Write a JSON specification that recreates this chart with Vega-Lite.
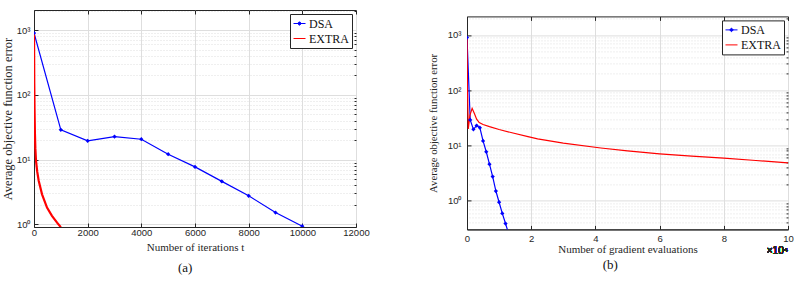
{
  "$schema": "https://vega.github.io/schema/vega-lite/v6.json",
  "padding": {"left": 0, "top": 9, "right": 0, "bottom": 0},
  "background": "white",
  "config": {
    "view": {"stroke": "#262626", "strokeWidth": 1},
    "axis": {
      "domainColor": "#262626",
      "tickColor": "#262626",
      "labelColor": "#262626",
      "labelFont": "Liberation Sans",
      "labelFontSize": 9.5,
      "titleFont": "Liberation Serif",
      "titleFontSize": 11,
      "titleFontWeight": "normal",
      "titleColor": "#262626",
      "gridColor": "#dedede",
      "gridWidth": 1,
      "tickSize": -4,
      "labelPadding": 9
    },
    "legend": {
      "labelFont": "Liberation Serif",
      "labelFontSize": 12,
      "labelColor": "#111111",
      "strokeColor": "#262626",
      "fillColor": "white",
      "padding": 3,
      "rowPadding": 2,
      "labelOffset": 3,
      "symbolSize": 144,
      "symbolStrokeWidth": 1,
      "title": null
    }
  },
  "datasets": {
    "iterations": [
      {"iter": 0, "err": 900, "method": "DSA"},
      {"iter": 1000, "err": 28.8, "method": "DSA"},
      {"iter": 2000, "err": 19.5, "method": "DSA"},
      {"iter": 3000, "err": 22.6, "method": "DSA"},
      {"iter": 4000, "err": 20.6, "method": "DSA"},
      {"iter": 5000, "err": 12.1, "method": "DSA"},
      {"iter": 6000, "err": 7.7, "method": "DSA"},
      {"iter": 7000, "err": 4.6, "method": "DSA"},
      {"iter": 8000, "err": 2.75, "method": "DSA"},
      {"iter": 9000, "err": 1.52, "method": "DSA"},
      {"iter": 10000, "err": 0.935, "method": "DSA"},
      {"iter": 0, "err": 900, "method": "EXTRA"},
      {"iter": 5, "err": 400, "method": "EXTRA"},
      {"iter": 10, "err": 150, "method": "EXTRA"},
      {"iter": 20, "err": 60, "method": "EXTRA"},
      {"iter": 35, "err": 25, "method": "EXTRA"},
      {"iter": 50, "err": 15, "method": "EXTRA"},
      {"iter": 75, "err": 9.5, "method": "EXTRA"},
      {"iter": 120, "err": 6.5, "method": "EXTRA"},
      {"iter": 175, "err": 4.7, "method": "EXTRA"},
      {"iter": 300, "err": 2.9, "method": "EXTRA"},
      {"iter": 485, "err": 1.81, "method": "EXTRA"},
      {"iter": 670, "err": 1.35, "method": "EXTRA"},
      {"iter": 860, "err": 1.06, "method": "EXTRA"},
      {"iter": 1000, "err": 0.9, "method": "EXTRA"}
    ],
    "gradients": [
      {"evals": 0, "err": 900, "method": "DSA"},
      {"evals": 1000, "err": 29, "method": "DSA"},
      {"evals": 2000, "err": 19.6, "method": "DSA"},
      {"evals": 3000, "err": 23, "method": "DSA"},
      {"evals": 4000, "err": 21, "method": "DSA"},
      {"evals": 5000, "err": 12.1, "method": "DSA"},
      {"evals": 6000, "err": 7.7, "method": "DSA"},
      {"evals": 7000, "err": 4.6, "method": "DSA"},
      {"evals": 8000, "err": 2.74, "method": "DSA"},
      {"evals": 9000, "err": 1.5, "method": "DSA"},
      {"evals": 10000, "err": 0.94, "method": "DSA"},
      {"evals": 11000, "err": 0.59, "method": "DSA"},
      {"evals": 12000, "err": 0.387, "method": "DSA"},
      {"evals": 13000, "err": 0.25, "method": "DSA"},
      {"evals": 0, "err": 900, "method": "EXTRA"},
      {"evals": 150, "err": 100, "method": "EXTRA"},
      {"evals": 400, "err": 20, "method": "EXTRA"},
      {"evals": 900, "err": 35, "method": "EXTRA"},
      {"evals": 1600, "err": 47, "method": "EXTRA"},
      {"evals": 2300, "err": 38, "method": "EXTRA"},
      {"evals": 3000, "err": 30, "method": "EXTRA"},
      {"evals": 3800, "err": 26, "method": "EXTRA"},
      {"evals": 5000, "err": 24, "method": "EXTRA"},
      {"evals": 7000, "err": 22, "method": "EXTRA"},
      {"evals": 10000, "err": 19.5, "method": "EXTRA"},
      {"evals": 14000, "err": 17, "method": "EXTRA"},
      {"evals": 19000, "err": 14.5, "method": "EXTRA"},
      {"evals": 22000, "err": 13.2, "method": "EXTRA"},
      {"evals": 30000, "err": 11, "method": "EXTRA"},
      {"evals": 41700, "err": 9, "method": "EXTRA"},
      {"evals": 50000, "err": 8, "method": "EXTRA"},
      {"evals": 60000, "err": 7.05, "method": "EXTRA"},
      {"evals": 70000, "err": 6.4, "method": "EXTRA"},
      {"evals": 80000, "err": 5.9, "method": "EXTRA"},
      {"evals": 90000, "err": 5.35, "method": "EXTRA"},
      {"evals": 100000, "err": 4.85, "method": "EXTRA"}
    ]
  },
  "resolve": {"legend": {"color": "independent"}},
  "spacing": 56,
  "hconcat": [
    {
      "width": 322,
      "height": 217,
      "data": {"name": "iterations"},
      "title": {"text": "(a)", "orient": "bottom", "frame": "bounds", "anchor": "middle", "font": "Liberation Serif", "fontSize": 13, "fontWeight": "normal", "color": "#111111", "offset": 9},
      "resolve": {"axis": {"x": "independent", "y": "independent"}},
      "layer": [
        {
          "transform": [{"filter": "datum.method === 'DSA'"}],
          "mark": {"type": "line", "strokeWidth": 1.2, "clip": true},
          "encoding": {
            "x": {"field": "iter", "type": "quantitative", "scale": {"domain": [0, 12000], "nice": false},
              "axis": {"orient": "bottom", "values": [0, 2000, 4000, 6000, 8000, 10000, 12000], "format": "d", "title": "Number of iterations t", "titlePadding": 5, "labelPadding": 4, "labelFlush": false}},
            "y": {"field": "err", "type": "quantitative", "scale": {"type": "log", "domain": [0.908, 2040], "nice": false},
              "axis": {"orient": "left", "values": [1, 10, 100, 1000], "labelExpr": "datum.value === 1 ? '10⁰' : datum.value === 10 ? '10¹' : datum.value === 100 ? '10²' : '10³'", "title": "Average objective function error", "titleFontSize": 12.5, "titlePadding": 2, "labelPadding": 8}},
            "color": {"field": "method", "type": "nominal", "scale": {"domain": ["DSA", "EXTRA"], "range": ["#0000ff", "#ff0000"]},
              "legend": {"orient": "top-right", "offset": 4,
                "encode": {"symbols": {"update": {
                  "shape": {"signal": "datum.value === 'DSA' ? 'M-1,0H1M0,-0.3L0.3,0L0,0.3L-0.3,0Z' : 'M-1,0H1'"},
                  "fill": {"signal": "datum.value === 'DSA' ? '#0000ff' : 'transparent'"}
                }}}}}
          }
        },
        {
          "transform": [{"filter": "datum.method === 'EXTRA'"}],
          "mark": {"type": "line", "strokeWidth": 2.2, "clip": true},
          "encoding": {
            "x": {"field": "iter", "type": "quantitative", "axis": null},
            "y": {"field": "err", "type": "quantitative", "axis": null},
            "color": {"field": "method", "type": "nominal"}
          }
        },
        {
          "transform": [{"filter": "datum.method === 'DSA'"}],
          "mark": {"type": "point", "shape": "diamond", "filled": true, "size": 18, "opacity": 1, "clip": true},
          "encoding": {
            "x": {"field": "iter", "type": "quantitative",
              "axis": {"orient": "top", "values": [0, 2000, 4000, 6000, 8000, 10000, 12000], "labels": false, "domain": false, "title": null, "grid": false}},
            "y": {"field": "err", "type": "quantitative",
              "axis": {"orient": "right", "values": [2, 3, 4, 5, 6, 7, 8, 9, 20, 30, 40, 50, 60, 70, 80, 90, 200, 300, 400, 500, 600, 700, 800, 900, 2000], "labels": false, "domain": false, "title": null, "tickSize": -2, "grid": true, "gridDash": [1, 2]}},
            "color": {"field": "method", "type": "nominal"}
          }
        }
      ]
    },
    {
      "spacing": 4.4,
      "resolve": {"legend": {"color": "independent"}},
      "vconcat": [
        {
          "width": 321,
          "height": 1,
          "view": {"stroke": null},
          "data": {"values": []},
          "mark": {"type": "point", "opacity": 0},
          "encoding": {}
        },
        {
          "width": 321,
          "height": 213,
          "data": {"name": "gradients"},
          "title": {"text": "(b)", "orient": "bottom", "frame": "bounds", "anchor": "middle", "font": "Liberation Serif", "fontSize": 13, "fontWeight": "normal", "color": "#111111", "offset": 3},
          "resolve": {"axis": {"x": "independent", "y": "independent"}},
          "layer": [
            {
              "transform": [{"filter": "datum.method === 'DSA'"}],
              "mark": {"type": "line", "strokeWidth": 1.2, "clip": true},
              "encoding": {
                "x": {"field": "evals", "type": "quantitative", "scale": {"domain": [0, 100000], "nice": false},
                  "axis": {"orient": "bottom", "values": [0, 20000, 40000, 60000, 80000, 100000], "labelExpr": "datum.value / 10000", "title": "Number of gradient evaluations", "titlePadding": 1, "labelPadding": 8, "labelFlush": false}},
                "y": {"field": "err", "type": "quantitative", "scale": {"type": "log", "domain": [0.303, 2170], "nice": false},
                  "axis": {"orient": "left", "values": [1, 10, 100, 1000], "labelExpr": "datum.value === 1 ? '10⁰' : datum.value === 10 ? '10¹' : datum.value === 100 ? '10²' : '10³'", "title": "Average objective function error", "titleFontSize": 10.7, "titlePadding": 9, "labelPadding": 10}},
                "color": {"field": "method", "type": "nominal",
                  "legend": {"orient": "top-right", "offset": 4,
                    "encode": {"symbols": {"update": {
                      "shape": {"signal": "datum.value === 'DSA' ? 'M-1,0H1M0,-0.3L0.3,0L0,0.3L-0.3,0Z' : 'M-1,0H1'"},
                      "fill": {"signal": "datum.value === 'DSA' ? '#0000ff' : 'transparent'"}
                    }}}}}
              }
            },
            {
              "transform": [{"filter": "datum.method === 'EXTRA'"}],
              "mark": {"type": "line", "strokeWidth": 1.2, "clip": true},
              "encoding": {
                "x": {"field": "evals", "type": "quantitative", "axis": null},
                "y": {"field": "err", "type": "quantitative", "axis": null},
                "color": {"field": "method", "type": "nominal"}
              }
            },
            {
              "transform": [{"filter": "datum.method === 'DSA'"}],
              "mark": {"type": "point", "shape": "diamond", "filled": true, "size": 18, "opacity": 1, "clip": true},
              "encoding": {
                "x": {"field": "evals", "type": "quantitative",
                  "axis": {"orient": "top", "values": [0, 20000, 40000, 60000, 80000, 100000], "labels": false, "domain": false, "title": null, "grid": false}},
                "y": {"field": "err", "type": "quantitative",
                  "axis": {"orient": "right", "values": [0.4, 0.5, 0.6, 0.7, 0.8, 0.9, 2, 3, 4, 5, 6, 7, 8, 9, 20, 30, 40, 50, 60, 70, 80, 90, 200, 300, 400, 500, 600, 700, 800, 900, 2000], "labels": false, "domain": false, "title": null, "tickSize": -2, "grid": true, "gridDash": [1, 2]}},
                "color": {"field": "method", "type": "nominal"}
              }
            },
            {
              "mark": {"type": "text", "align": "right", "baseline": "middle", "dy": 22, "font": "Liberation Sans", "fontSize": 10, "color": "#262626"},
              "encoding": {
                "x": {"datum": 100000, "type": "quantitative", "axis": null},
                "y": {"datum": 0.303, "type": "quantitative", "axis": null},
                "text": {"value": "×10⁴"}
              }
            }
          ]
        }
      ]
    }
  ]
}
